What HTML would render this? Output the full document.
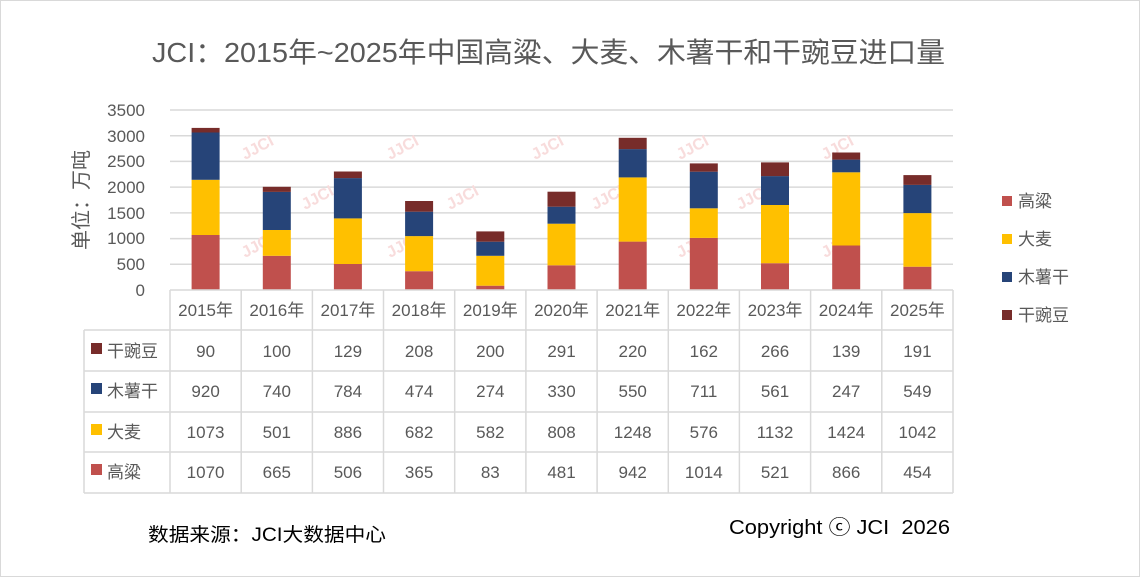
<!DOCTYPE html>
<html><head><meta charset="utf-8"><style>
html,body{margin:0;padding:0;background:#fff;}
svg{display:block;font-family:"Liberation Sans","Noto Sans CJK SC",sans-serif;}
</style></head><body>
<svg width="1140" height="577" viewBox="0 0 1140 577" xmlns="http://www.w3.org/2000/svg">
<rect x="0.5" y="0.5" width="1139" height="576" fill="#fff" stroke="#d9d9d9"/>
<text x="152" y="62" textLength="793" lengthAdjust="spacingAndGlyphs" font-size="28" fill="#595959">JCI：2015年~2025年中国高粱、大麦、木薯干和干豌豆进口量</text>
<g stroke="#d9d9d9" stroke-width="1.5">
<line x1="170" x2="953" y1="110" y2="110"/><line x1="170" x2="953" y1="135.7" y2="135.7"/>
<line x1="170" x2="953" y1="161.4" y2="161.4"/><line x1="170" x2="953" y1="187.1" y2="187.1"/>
<line x1="170" x2="953" y1="212.9" y2="212.9"/><line x1="170" x2="953" y1="238.6" y2="238.6"/>
<line x1="170" x2="953" y1="264.3" y2="264.3"/>
</g>
<g font-size="17" fill="#595959" text-anchor="end">
<text x="145" y="116">3500</text><text x="145" y="142">3000</text><text x="145" y="167">2500</text>
<text x="145" y="193">2000</text><text x="145" y="219">1500</text><text x="145" y="244">1000</text>
<text x="145" y="270">500</text><text x="145" y="296">0</text>
</g>
<text transform="translate(88,200) rotate(-90)" text-anchor="middle" font-size="20" fill="#595959">单位：万吨</text>
<g font-size="16" fill="#f8dcdc" font-weight="bold">
<text transform="translate(245,160) rotate(-28)">JJCI</text>
<text transform="translate(390,160) rotate(-28)">JJCI</text>
<text transform="translate(535,160) rotate(-28)">JJCI</text>
<text transform="translate(680,160) rotate(-28)">JJCI</text>
<text transform="translate(825,160) rotate(-28)">JJCI</text>
<text transform="translate(305,210) rotate(-28)">JJCI</text>
<text transform="translate(450,210) rotate(-28)">JJCI</text>
<text transform="translate(595,210) rotate(-28)">JJCI</text>
<text transform="translate(740,210) rotate(-28)">JJCI</text>
<text transform="translate(245,258) rotate(-28)">JJCI</text>
<text transform="translate(390,258) rotate(-28)">JJCI</text>
<text transform="translate(680,258) rotate(-28)">JJCI</text>
<text transform="translate(825,258) rotate(-28)">JJCI</text>
</g>
<g>
<rect x="191.6" y="235.0" width="28" height="55.0" fill="#c0504d"/><rect x="191.6" y="179.8" width="28" height="55.2" fill="#ffc000"/><rect x="191.6" y="132.5" width="28" height="47.3" fill="#264478"/><rect x="191.6" y="127.9" width="28" height="4.6" fill="#772c2a"/>
<rect x="262.8" y="255.8" width="28" height="34.2" fill="#c0504d"/><rect x="262.8" y="230.0" width="28" height="25.8" fill="#ffc000"/><rect x="262.8" y="191.9" width="28" height="38.1" fill="#264478"/><rect x="262.8" y="186.8" width="28" height="5.1" fill="#772c2a"/>
<rect x="333.9" y="264.0" width="28" height="26.0" fill="#c0504d"/><rect x="333.9" y="218.4" width="28" height="45.6" fill="#ffc000"/><rect x="333.9" y="178.1" width="28" height="40.3" fill="#264478"/><rect x="333.9" y="171.5" width="28" height="6.6" fill="#772c2a"/>
<rect x="405.1" y="271.2" width="28" height="18.8" fill="#c0504d"/><rect x="405.1" y="236.1" width="28" height="35.1" fill="#ffc000"/><rect x="405.1" y="211.7" width="28" height="24.4" fill="#264478"/><rect x="405.1" y="201.0" width="28" height="10.7" fill="#772c2a"/>
<rect x="476.3" y="285.7" width="28" height="4.3" fill="#c0504d"/><rect x="476.3" y="255.8" width="28" height="29.9" fill="#ffc000"/><rect x="476.3" y="241.7" width="28" height="14.1" fill="#264478"/><rect x="476.3" y="231.4" width="28" height="10.3" fill="#772c2a"/>
<rect x="547.5" y="265.3" width="28" height="24.7" fill="#c0504d"/><rect x="547.5" y="223.7" width="28" height="41.6" fill="#ffc000"/><rect x="547.5" y="206.7" width="28" height="17.0" fill="#264478"/><rect x="547.5" y="191.7" width="28" height="15.0" fill="#772c2a"/>
<rect x="618.7" y="241.6" width="28" height="48.4" fill="#c0504d"/><rect x="618.7" y="177.4" width="28" height="64.2" fill="#ffc000"/><rect x="618.7" y="149.1" width="28" height="28.3" fill="#264478"/><rect x="618.7" y="137.8" width="28" height="11.3" fill="#772c2a"/>
<rect x="689.8" y="237.9" width="28" height="52.1" fill="#c0504d"/><rect x="689.8" y="208.3" width="28" height="29.6" fill="#ffc000"/><rect x="689.8" y="171.7" width="28" height="36.6" fill="#264478"/><rect x="689.8" y="163.4" width="28" height="8.3" fill="#772c2a"/>
<rect x="761.0" y="263.2" width="28" height="26.8" fill="#c0504d"/><rect x="761.0" y="205.0" width="28" height="58.2" fill="#ffc000"/><rect x="761.0" y="176.1" width="28" height="28.9" fill="#264478"/><rect x="761.0" y="162.4" width="28" height="13.7" fill="#772c2a"/>
<rect x="832.2" y="245.5" width="28" height="44.5" fill="#c0504d"/><rect x="832.2" y="172.3" width="28" height="73.2" fill="#ffc000"/><rect x="832.2" y="159.6" width="28" height="12.7" fill="#264478"/><rect x="832.2" y="152.5" width="28" height="7.1" fill="#772c2a"/>
<rect x="903.4" y="266.7" width="28" height="23.3" fill="#c0504d"/><rect x="903.4" y="213.1" width="28" height="53.6" fill="#ffc000"/><rect x="903.4" y="184.9" width="28" height="28.2" fill="#264478"/><rect x="903.4" y="175.1" width="28" height="9.8" fill="#772c2a"/>
</g>
<g stroke="#d9d9d9" stroke-width="1.5" fill="none">
<line x1="170" x2="953" y1="290" y2="290"/>
<line x1="84" x2="953" y1="330" y2="330"/>
<line x1="84" x2="953" y1="371" y2="371"/>
<line x1="84" x2="953" y1="412" y2="412"/>
<line x1="84" x2="953" y1="452" y2="452"/>
<line x1="84" x2="953" y1="493" y2="493"/>
<line x1="84" x2="84" y1="330" y2="493"/>
<line x1="170" x2="170" y1="290" y2="493"/><line x1="241.2" x2="241.2" y1="290" y2="493"/>
<line x1="312.4" x2="312.4" y1="290" y2="493"/><line x1="383.5" x2="383.5" y1="290" y2="493"/>
<line x1="454.7" x2="454.7" y1="290" y2="493"/><line x1="525.9" x2="525.9" y1="290" y2="493"/>
<line x1="597.1" x2="597.1" y1="290" y2="493"/><line x1="668.3" x2="668.3" y1="290" y2="493"/>
<line x1="739.4" x2="739.4" y1="290" y2="493"/><line x1="810.6" x2="810.6" y1="290" y2="493"/>
<line x1="881.8" x2="881.8" y1="290" y2="493"/><line x1="953" x2="953" y1="290" y2="493"/>
</g>
<g font-size="17" fill="#595959" text-anchor="middle">
<text x="205.6" y="316">2015年</text><text x="276.8" y="316">2016年</text><text x="347.9" y="316">2017年</text><text x="419.1" y="316">2018年</text><text x="490.3" y="316">2019年</text><text x="561.5" y="316">2020年</text><text x="632.7" y="316">2021年</text><text x="703.8" y="316">2022年</text><text x="775.0" y="316">2023年</text><text x="846.2" y="316">2024年</text><text x="917.4" y="316">2025年</text>
<text x="205.6" y="357">90</text><text x="276.8" y="357">100</text><text x="347.9" y="357">129</text><text x="419.1" y="357">208</text><text x="490.3" y="357">200</text><text x="561.5" y="357">291</text><text x="632.7" y="357">220</text><text x="703.8" y="357">162</text><text x="775.0" y="357">266</text><text x="846.2" y="357">139</text><text x="917.4" y="357">191</text>
<text x="205.6" y="397">920</text><text x="276.8" y="397">740</text><text x="347.9" y="397">784</text><text x="419.1" y="397">474</text><text x="490.3" y="397">274</text><text x="561.5" y="397">330</text><text x="632.7" y="397">550</text><text x="703.8" y="397">711</text><text x="775.0" y="397">561</text><text x="846.2" y="397">247</text><text x="917.4" y="397">549</text>
<text x="205.6" y="438">1073</text><text x="276.8" y="438">501</text><text x="347.9" y="438">886</text><text x="419.1" y="438">682</text><text x="490.3" y="438">582</text><text x="561.5" y="438">808</text><text x="632.7" y="438">1248</text><text x="703.8" y="438">576</text><text x="775.0" y="438">1132</text><text x="846.2" y="438">1424</text><text x="917.4" y="438">1042</text>
<text x="205.6" y="478">1070</text><text x="276.8" y="478">665</text><text x="347.9" y="478">506</text><text x="419.1" y="478">365</text><text x="490.3" y="478">83</text><text x="561.5" y="478">481</text><text x="632.7" y="478">942</text><text x="703.8" y="478">1014</text><text x="775.0" y="478">521</text><text x="846.2" y="478">866</text><text x="917.4" y="478">454</text>
</g>
<g font-size="17" fill="#595959">
<rect x="91" y="343" width="11" height="11" fill="#772c2a"/><text x="107" y="357">干豌豆</text>
<rect x="91" y="383" width="11" height="11" fill="#264478"/><text x="107" y="397">木薯干</text>
<rect x="91" y="424" width="11" height="11" fill="#ffc000"/><text x="107" y="438">大麦</text>
<rect x="91" y="464" width="11" height="11" fill="#c0504d"/><text x="107" y="478">高粱</text>
</g>
<g font-size="17" fill="#595959">
<rect x="1002" y="196" width="10" height="10" fill="#c0504d"/><text x="1018" y="207">高粱</text>
<rect x="1002" y="234" width="10" height="10" fill="#ffc000"/><text x="1018" y="245">大麦</text>
<rect x="1002" y="272" width="10" height="10" fill="#264478"/><text x="1018" y="283">木薯干</text>
<rect x="1002" y="310" width="10" height="10" fill="#772c2a"/><text x="1018" y="321">干豌豆</text>
</g>
<text x="148" y="541" textLength="238" lengthAdjust="spacingAndGlyphs" font-size="19" fill="#000">数据来源：JCI大数据中心</text>
<text x="729" y="534" textLength="221" lengthAdjust="spacingAndGlyphs" font-size="20" fill="#000" xml:space="preserve">Copyright ⓒ JCI  2026</text>
</svg>
</body></html>
